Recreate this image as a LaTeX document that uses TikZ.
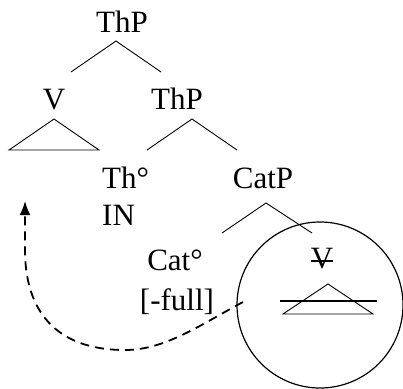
\documentclass[tikz,border=0pt]{standalone}
\usepackage{fontspec}
\setmainfont{Liberation Serif}
\usetikzlibrary{arrows.meta}
\begin{document}
\begin{tikzpicture}[x=1pt,y=-1pt,
  lbl/.style={font=\fontsize{31}{33}\selectfont, inner sep=0pt, anchor=base},
  branch/.style={line width=0.9pt},
  strike/.style={line width=1.8pt}]
\useasboundingbox (0,0) rectangle (403,388);
% labels
\node[lbl] (thp1) at (122,32) {ThP};
\node[lbl] (v) at (54,109) {V};
\node[lbl] (thp2) at (177,109) {ThP};
\node[lbl, anchor=base west] (th) at (102,188) {Th°};
\node[lbl, anchor=base west] (in) at (102,225) {IN};
\node[lbl] (catp) at (263,188) {CatP};
\node[lbl] (cat) at (175,270) {Cat°};
\node[lbl] (full) at (177,310) {[-full]};
\node[lbl] (v2) at (322,268) {V};
% branches
\coordinate (a1) at (116,41); \coordinate (l1) at (71,72); \coordinate (r1) at (161,72);
\draw[branch] (l1) -- (a1) -- (r1);
\coordinate (a2) at (192,119); \coordinate (l2) at (147,150); \coordinate (r2) at (237,150);
\draw[branch] (l2) -- (a2) -- (r2);
\coordinate (a3) at (266,203); \coordinate (l3) at (222,233); \coordinate (r3) at (312,233);
\draw[branch] (l3) -- (a3) -- (r3);
% triangle under V
\coordinate (t1) at (54,119); \coordinate (t1l) at (9,150); \coordinate (t1r) at (99,150);
\draw[branch] (t1) -- (t1l) -- (t1r) -- cycle;
% struck V and triangle
\draw[line width=1.3pt] ([xshift=-11pt,yshift=7pt]v2.base) -- ([xshift=11pt,yshift=7pt]v2.base);
\coordinate (t2) at (328,284); \coordinate (t2l) at (283,314); \coordinate (t2r) at (373,314);
\draw[branch] (t2) -- (t2l) -- (t2r) -- cycle;
\coordinate (s2l) at (280,301); \coordinate (s2r) at (377,301);
\draw[strike] (s2l) -- (s2r);
% circle
\node[circle, draw, line width=1.2pt, minimum size=166pt, inner sep=0pt] (circ) at (320,305) {};
% movement arrow
\coordinate (start) at (243,302);
\coordinate (tip) at (25,201);
\draw[line width=1.8pt, dash pattern=on 9pt off 6pt, -{Latex[length=14pt,width=11pt]}]
  (start) .. controls (200,325) and (165,350) .. (125,350)
  .. controls (55,350) and (25,310) .. (25,250) -- (tip);
\end{tikzpicture}
\end{document}
